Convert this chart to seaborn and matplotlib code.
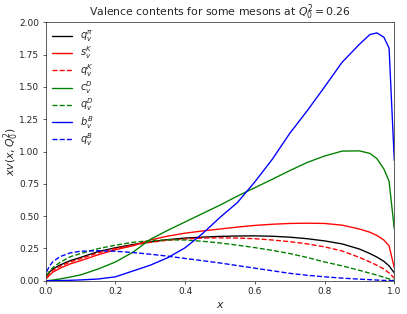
import numpy as np
import seaborn as sns
import matplotlib
matplotlib.use('Agg')
import matplotlib.pyplot as plt

# ========================================== DATA ==========================================

x_values = [0.003, 0.01, 0.02, 0.04, 0.07, 0.1, 0.15, 0.2, 0.25, 0.3, 0.35, 0.4, 0.45, 0.5, 0.55,
            0.6, 0.65, 0.7, 0.75, 0.8, 0.85, 0.9, 0.93, 0.95, 0.97, 0.985, 1.0]

q_pi = [0.04, 0.065, 0.09, 0.12, 0.155, 0.18, 0.225, 0.255, 0.28, 0.30, 0.318, 0.33, 0.337, 0.343, 0.346,
        0.347, 0.344, 0.337, 0.325, 0.308, 0.285, 0.245, 0.21, 0.183, 0.15, 0.115, 0.06]
s_K = [0.02, 0.04, 0.065, 0.095, 0.13, 0.155, 0.2, 0.24, 0.27, 0.315, 0.345, 0.368, 0.385, 0.40, 0.415,
       0.428, 0.437, 0.443, 0.445, 0.443, 0.43, 0.40, 0.375, 0.35, 0.315, 0.27, 0.1]
q_K = [0.03, 0.055, 0.08, 0.11, 0.145, 0.17, 0.215, 0.25, 0.275, 0.297, 0.313, 0.323, 0.33, 0.332, 0.33,
       0.325, 0.315, 0.302, 0.285, 0.262, 0.23, 0.18, 0.145, 0.12, 0.09, 0.06, 0.02]
c_D = [0.0, 0.002, 0.005, 0.013, 0.028, 0.045, 0.09, 0.145, 0.22, 0.32, 0.39, 0.455, 0.52, 0.585, 0.655,
       0.72, 0.785, 0.852, 0.915, 0.965, 1.003, 1.005, 0.985, 0.945, 0.865, 0.77, 0.40]
q_D = [0.04, 0.07, 0.1, 0.14, 0.185, 0.21, 0.248, 0.275, 0.297, 0.31, 0.316, 0.315, 0.305, 0.292, 0.275,
       0.256, 0.235, 0.21, 0.18, 0.145, 0.115, 0.08, 0.058, 0.043, 0.027, 0.014, 0.0]
b_B = [0.0, 0.0, 0.0, 0.001, 0.003, 0.006, 0.013, 0.03, 0.075, 0.12, 0.178, 0.255, 0.365, 0.49, 0.605,
       0.765, 0.94, 1.14, 1.315, 1.50, 1.69, 1.83, 1.905, 1.918, 1.885, 1.80, 0.93]
q_B = [0.07, 0.11, 0.145, 0.185, 0.215, 0.228, 0.232, 0.228, 0.218, 0.205, 0.19, 0.172, 0.155, 0.137, 0.117,
       0.097, 0.077, 0.057, 0.042, 0.03, 0.02, 0.012, 0.008, 0.005, 0.002, 0.001, 0.0]

series = [
    (q_pi, r'$q_v^{\pi}$', 'k', '-'),
    (s_K, r'$s_v^{K}$', 'r', '-'),
    (q_K, r'$q_v^{K}$', 'r', '--'),
    (c_D, r'$c_v^{D}$', 'g', '-'),
    (q_D, r'$q_v^{D}$', 'g', '--'),
    (b_B, r'$b_v^{B}$', 'b', '-'),
    (q_B, r'$q_v^{B}$', 'b', '--'),
]

# ========================================== PLOT ==========================================

sns.set_style('ticks')
plt.rcParams['font.family'] = ['DejaVu Sans']

fig = plt.figure(figsize = (407 / 65, 314 / 65), dpi = 65)
ax = fig.add_axes([45.7 / 407, 1 - 280.7 / 314, (394.3 - 45.7) / 407, (280.7 - 22.3) / 314])

for values, label, color, style in series:
    sns.lineplot(x = x_values, y = values, color = color, linestyle = style, label = label,
                 linewidth = 1.5, estimator = None, ax = ax)

ax.set_xlim(0, 1)
ax.set_ylim(0, 2.0)
ax.set_yticks(np.arange(0, 2.01, 0.25))
ax.set_yticklabels([f'{v:.2f}' for v in np.arange(0, 2.01, 0.25)])
ax.tick_params(labelsize = 10)
ax.set_xlabel(r'$x$', fontsize = 12)
ax.set_ylabel(r'$xv(x, Q_0^2)$', fontsize = 12)
ax.yaxis.set_label_coords(-0.072, 0.5)
ax.set_title(r'Valence contents for some mesons at $Q_0^2 = 0.26$', fontsize = 12)
ax.legend(loc = 'upper left', frameon = False, fontsize = 11, labelspacing = 0.05,
          handlelength = 2.0, borderaxespad = 0.25)

fig.savefig('out.png', dpi = 65)
